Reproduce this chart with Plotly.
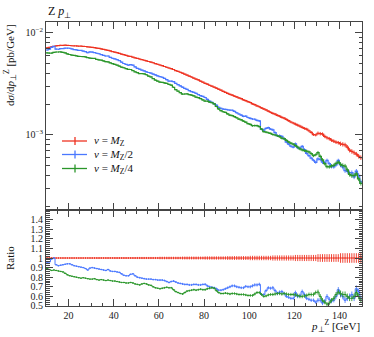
import plotly.graph_objects as go

# ── data: 1 GeV bins from 10 to 150 GeV ────────────────────────────────────
BIN_LO = 10
BIN_WIDTH = 1

# nu = M_Z, d sigma / d pT  [1e-3 pb/GeV]
xs_mz = [
    7.16, 7.22, 7.30, 7.38, 7.47, 7.52, 7.57, 7.55, 7.58, 7.54,
    7.53, 7.49, 7.47, 7.46, 7.42, 7.44, 7.38, 7.36, 7.31, 7.27,
    7.22, 7.17, 7.10, 7.06, 6.97, 6.90, 6.83, 6.75, 6.66, 6.57,
    6.48, 6.40, 6.31, 6.20, 6.12, 6.03, 5.93, 5.88, 5.78, 5.70,
    5.62, 5.55, 5.48, 5.40, 5.33, 5.25, 5.18, 5.10, 5.00, 4.93,
    4.85, 4.78, 4.69, 4.61, 4.53, 4.46, 4.38, 4.28, 4.20, 4.12,
    4.03, 3.94, 3.86, 3.77, 3.70, 3.61, 3.53, 3.46, 3.37, 3.29,
    3.21, 3.15, 3.07, 3.01, 2.94, 2.88, 2.81, 2.75, 2.68, 2.62,
    2.56, 2.50, 2.46, 2.40, 2.36, 2.31, 2.27, 2.21, 2.17, 2.12,
    2.08, 2.02, 1.98, 1.93, 1.89, 1.84, 1.80, 1.76, 1.71, 1.67,
    1.63, 1.60, 1.56, 1.53, 1.49, 1.46, 1.42, 1.38, 1.34, 1.31,
    1.28, 1.25, 1.22, 1.19, 1.16, 1.14, 1.10, 1.06, 1.01, 1.00,
    1.04, 1.03, 1.02, 0.97, 0.94, 0.92, 0.89, 0.87, 0.85, 0.84,
    0.82, 0.81, 0.80, 0.76, 0.71, 0.69, 0.67, 0.65, 0.62, 0.60,
]

# ratio of nu = M_Z/2 to nu = M_Z
ratio_mz2 = [
    0.95, 0.96, 0.99, 1.00, 0.93, 0.92, 0.925, 0.93, 0.935, 0.94,
    0.94, 0.93, 0.92, 0.915, 0.91, 0.905, 0.90, 0.89, 0.875, 0.895,
    0.90, 0.895, 0.89, 0.885, 0.88, 0.875, 0.87, 0.88, 0.865, 0.86,
    0.86, 0.855, 0.85, 0.835, 0.82, 0.815, 0.815, 0.83, 0.835, 0.815,
    0.80, 0.795, 0.79, 0.785, 0.78, 0.78, 0.78, 0.775, 0.775, 0.77,
    0.77, 0.77, 0.765, 0.755, 0.745, 0.755, 0.76, 0.75, 0.74, 0.735,
    0.73, 0.725, 0.725, 0.72, 0.72, 0.725, 0.725, 0.72, 0.72, 0.725,
    0.726, 0.71, 0.70, 0.695, 0.69, 0.68, 0.665, 0.665, 0.67, 0.68,
    0.69, 0.70, 0.71, 0.71, 0.70, 0.695, 0.69, 0.69, 0.705, 0.70,
    0.70, 0.71, 0.72, 0.72, 0.726, 0.62, 0.62, 0.66, 0.69, 0.685,
    0.69, 0.66, 0.63, 0.645, 0.65, 0.63, 0.60, 0.59, 0.58, 0.58,
    0.64, 0.60, 0.61, 0.65, 0.62, 0.58, 0.57, 0.56, 0.56, 0.54,
    0.56, 0.56, 0.53, 0.55, 0.60, 0.57, 0.55, 0.56, 0.60, 0.67,
    0.62, 0.60, 0.56, 0.58, 0.60, 0.62, 0.58, 0.68, 0.65, 0.58,
]

# ratio of nu = M_Z/4 to nu = M_Z
ratio_mz4 = [
    0.89, 0.88, 0.87, 0.875, 0.87, 0.865, 0.86, 0.855, 0.84, 0.825,
    0.816, 0.81, 0.805, 0.80, 0.795, 0.79, 0.795, 0.79, 0.785, 0.78,
    0.78, 0.785, 0.775, 0.77, 0.775, 0.77, 0.765, 0.77, 0.765, 0.76,
    0.76, 0.755, 0.75, 0.745, 0.745, 0.74, 0.74, 0.745, 0.74, 0.73,
    0.725, 0.72, 0.73, 0.735, 0.73, 0.72, 0.715, 0.70, 0.69, 0.685,
    0.68, 0.685, 0.69, 0.695, 0.69, 0.69, 0.67, 0.65, 0.64, 0.63,
    0.625, 0.64, 0.655, 0.66, 0.665, 0.67, 0.665, 0.67, 0.675, 0.67,
    0.67, 0.68, 0.685, 0.69, 0.685, 0.66, 0.64, 0.63, 0.63, 0.635,
    0.63, 0.625, 0.63, 0.63, 0.625, 0.62, 0.62, 0.62, 0.615, 0.61,
    0.61, 0.61, 0.625, 0.64, 0.64, 0.62, 0.60, 0.605, 0.615, 0.62,
    0.62, 0.625, 0.63, 0.63, 0.625, 0.63, 0.625, 0.62, 0.62, 0.62,
    0.615, 0.61, 0.60, 0.60, 0.605, 0.61, 0.62, 0.62, 0.62, 0.64,
    0.645, 0.60, 0.56, 0.54, 0.52, 0.53, 0.56, 0.58, 0.62, 0.645,
    0.63, 0.62, 0.62, 0.60, 0.58, 0.58, 0.60, 0.64, 0.60, 0.56,
]

# relative stat. uncertainty per 10 GeV block (10-20, 20-30, ...)
rel_err_block = [0.008, 0.008, 0.009, 0.010, 0.011, 0.013, 0.015,
                 0.017, 0.020, 0.023, 0.027, 0.032, 0.040, 0.050]

LABELS = ["<i>ν</i> = <i>M</i><sub>Z</sub>",
          "<i>ν</i> = <i>M</i><sub>Z</sub>/2",
          "<i>ν</i> = <i>M</i><sub>Z</sub>/4"]
COLORS = ["#ee3322", "#4a78ff", "#2a962a"]

FONT = "Liberation Serif"
FRAME = "#444444"

n = len(xs_mz)
edges = [BIN_LO + i * BIN_WIDTH for i in range(n + 1)]
centres = [BIN_LO + (i + 0.5) * BIN_WIDTH for i in range(n)]
rel_err = [rel_err_block[i // 10] for i in range(n)]

red = [v * 1e-3 for v in xs_mz]
series_main = [
    red,
    [r * f for r, f in zip(red, ratio_mz2)],
    [r * f for r, f in zip(red, ratio_mz4)],
]
series_ratio = [[1.0] * n, ratio_mz2, ratio_mz4]

fig = go.Figure()


def add_hist(vals, color, xa, ya, width=1.2):
    # step outline over the bin edges
    fig.add_trace(go.Scatter(
        x=edges, y=vals + [vals[-1]], mode="lines", line_shape="hv",
        line=dict(color=color, width=width), xaxis=xa, yaxis=ya,
        hoverinfo="skip", showlegend=False,
    ))
    # vertical error bars at bin centres
    fig.add_trace(go.Scatter(
        x=centres, y=vals, mode="markers",
        marker=dict(size=1, color=color),
        error_y=dict(type="data", array=[v * e for v, e in zip(vals, rel_err)],
                     color=color, thickness=0.9, width=0),
        xaxis=xa, yaxis=ya, hoverinfo="skip", showlegend=False,
    ))


for vals, col in zip(series_main, COLORS):
    add_hist(vals, col, "x", "y")
for vals, col in zip(series_ratio, COLORS):
    add_hist(vals, col, "x2", "y2", width=1.0)

# ── axes ───────────────────────────────────────────────────────────────────
SPLIT = 0.338
tickfont = dict(family=FONT, size=10, color="#222222")
common_x = dict(
    range=[10, 150], showline=True, linecolor=FRAME, linewidth=1, mirror="ticks",
    ticks="inside", tickvals=[20, 40, 60, 80, 100, 120, 140], ticklen=7,
    tickcolor=FRAME, showgrid=False, zeroline=False, automargin=False,
    minor=dict(dtick=5, ticks="inside", ticklen=3.5, tickcolor=FRAME, showgrid=False),
)
fig.update_layout(
    xaxis=dict(common_x, anchor="y", domain=[0, 1], showticklabels=False),
    xaxis2=dict(common_x, anchor="y2", domain=[0, 1], matches="x",
                tickfont=tickfont, ticktext=["20", "40", "60", "80", "100", "120", "140"]),
    yaxis=dict(
        type="log", domain=[SPLIT, 1], anchor="x", automargin=False,
        range=[-3.735, -1.893], showline=True, linecolor=FRAME, linewidth=1,
        mirror="ticks", ticks="inside", ticklen=7, tickcolor=FRAME,
        tickvals=[1e-3, 1e-2], ticktext=["10<sup>−3</sup>", "10<sup>−2</sup>"],
        tickfont=tickfont, showgrid=False, zeroline=False,
        minor=dict(ticks="inside", ticklen=3.5, tickcolor=FRAME, showgrid=False,
                   tickvals=[k * 1e-4 for k in range(2, 10)] + [k * 1e-3 for k in range(2, 10)]),
    ),
    yaxis2=dict(
        domain=[0, SPLIT], anchor="x2", range=[0.5, 1.5], automargin=False,
        showline=True, linecolor=FRAME, linewidth=1, mirror="ticks",
        ticks="inside", ticklen=7, tickcolor=FRAME,
        tickvals=[0.5, 0.6, 0.7, 0.8, 0.9, 1.0, 1.1, 1.2, 1.3, 1.4],
        ticktext=["0.5", "0.6", "0.7", "0.8", "0.9", "1", "1.1", "1.2", "1.3", "1.4"],
        tickfont=tickfont, showgrid=False, zeroline=False,
        minor=dict(dtick=0.02, ticks="inside", ticklen=3.5, tickcolor=FRAME, showgrid=False),
    ),
)

# ── text ───────────────────────────────────────────────────────────────────
H = 284.0
W = 316.0


def px(x):
    return (x - 46) / W


def py(y):
    return (306 - y) / H


anns = [
    dict(x=0, y=py(12), text="Z <i>p</i><sub>⊥</sub>", xanchor="left", yanchor="middle",
         font=dict(family=FONT, size=12, color="#111")),
    dict(x=px(10), y=1, text="d<i>σ</i>/d<i>p</i><sub>⊥</sub><sup>Z</sup> [pb/GeV]",
         textangle=-90, xanchor="center", yanchor="top",
         font=dict(family=FONT, size=11, color="#111")),
    dict(x=px(10), y=py(258), text="Ratio", textangle=-90, xanchor="center", yanchor="middle",
         font=dict(family=FONT, size=11, color="#111")),
    dict(x=1, y=py(326), text="<i>p</i><sub>⊥</sub><sup>Z</sup> [GeV]", xanchor="right",
         yanchor="middle", font=dict(family=FONT, size=11, color="#111")),
]

shapes = []
legend_y = [141, 154.5, 168.5]
for lab, col, ly in zip(LABELS, COLORS, legend_y):
    shapes.append(dict(type="line", xref="paper", yref="paper", x0=px(62), x1=px(87),
                       y0=py(ly), y1=py(ly), line=dict(color=col, width=1.3)))
    shapes.append(dict(type="line", xref="paper", yref="paper", x0=px(75), x1=px(75),
                       y0=py(ly - 4), y1=py(ly + 4), line=dict(color=col, width=1.3)))
    anns.append(dict(x=px(92), y=py(ly), text=lab, xanchor="left", yanchor="middle",
                     font=dict(family=FONT, size=11, color="#111")))

for a in anns:
    a.update(xref="paper", yref="paper", showarrow=False)

fig.update_layout(
    width=374, height=337,
    margin=dict(l=46, r=12, t=22, b=31, autoexpand=False),
    paper_bgcolor="white", plot_bgcolor="white",
    annotations=anns, shapes=shapes, showlegend=False,
    font=dict(family=FONT),
)

# drop the browser's default body margin so the figure sits at the page origin
fig.write_html("out.html", config={"displayModeBar": False},
               post_script="document.body.style.margin = '0px';")
